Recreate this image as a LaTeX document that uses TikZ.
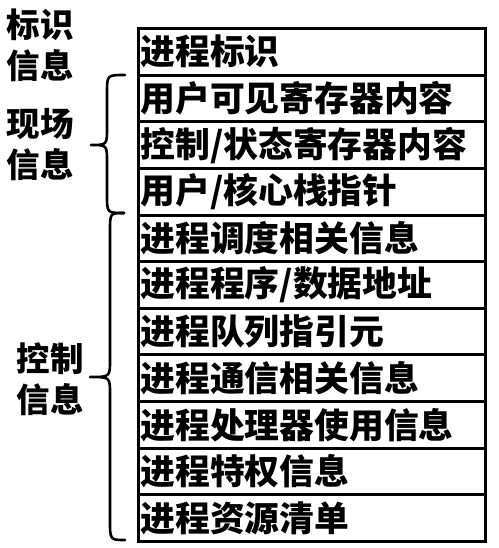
\documentclass[tikz,border=0pt]{standalone}
\usepackage{fontspec}
\setmainfont{Noto Sans CJK SC}
\begin{document}
\begin{tikzpicture}[x=1pt,y=-1pt,
  rowbox/.style={draw=black,line width=3pt,anchor=north west,minimum width=347pt,
    minimum height=46.64pt,text width=343pt,inner xsep=2pt,inner ysep=0pt,align=left,
    font=\fontsize{34.8}{40}\selectfont\bfseries},
  sidelabel/.style={align=center,inner sep=0pt,font=\fontsize{33.5}{41}\selectfont\bfseries},
  bracepath/.style={draw=black,line width=2.6pt,line cap=round,line join=round}]
\useasboundingbox[fill=white] (0,0) rectangle (498,548);
\foreach \t [count=\i from 0] in {进程标识,用户可见寄存器内容,控制/状态寄存器内容,用户/核心栈指针,进程调度相关信息,进程程序/数据地址,进程队列指引元,进程通信相关信息,进程处理器使用信息,进程特权信息,进程资源清单}
  \node[rowbox] (r\i) at (137,{27+\i*46.64}) {\t};
\node[sidelabel] (lab1) at (40,45) {标识\\信息};
\node[sidelabel] (lab2) at (40,145) {现场\\信息};
\node[sidelabel] (lab3) at (50,379) {控制\\信息};
\coordinate (b1t) at (125,75);
\coordinate (b1m) at (91,145);
\coordinate (b1b) at (124,213);
\coordinate (b2b) at (125,540);
\coordinate (b2m) at (90,377);
\path[bracepath] (b1t) .. controls (107,75) .. (107,93) -- (107,128)
  .. controls (107,145) .. (b1m) .. controls (107,145) .. (107,162) -- (107,195)
  .. controls (107,213) .. (b1b);
\path[bracepath] (b1b) .. controls (110,213) .. (110,231) -- (110,360)
  .. controls (110,377) .. (b2m) .. controls (110,377) .. (110,394) -- (110,520)
  .. controls (110,540) .. (b2b);
\end{tikzpicture}
\end{document}
